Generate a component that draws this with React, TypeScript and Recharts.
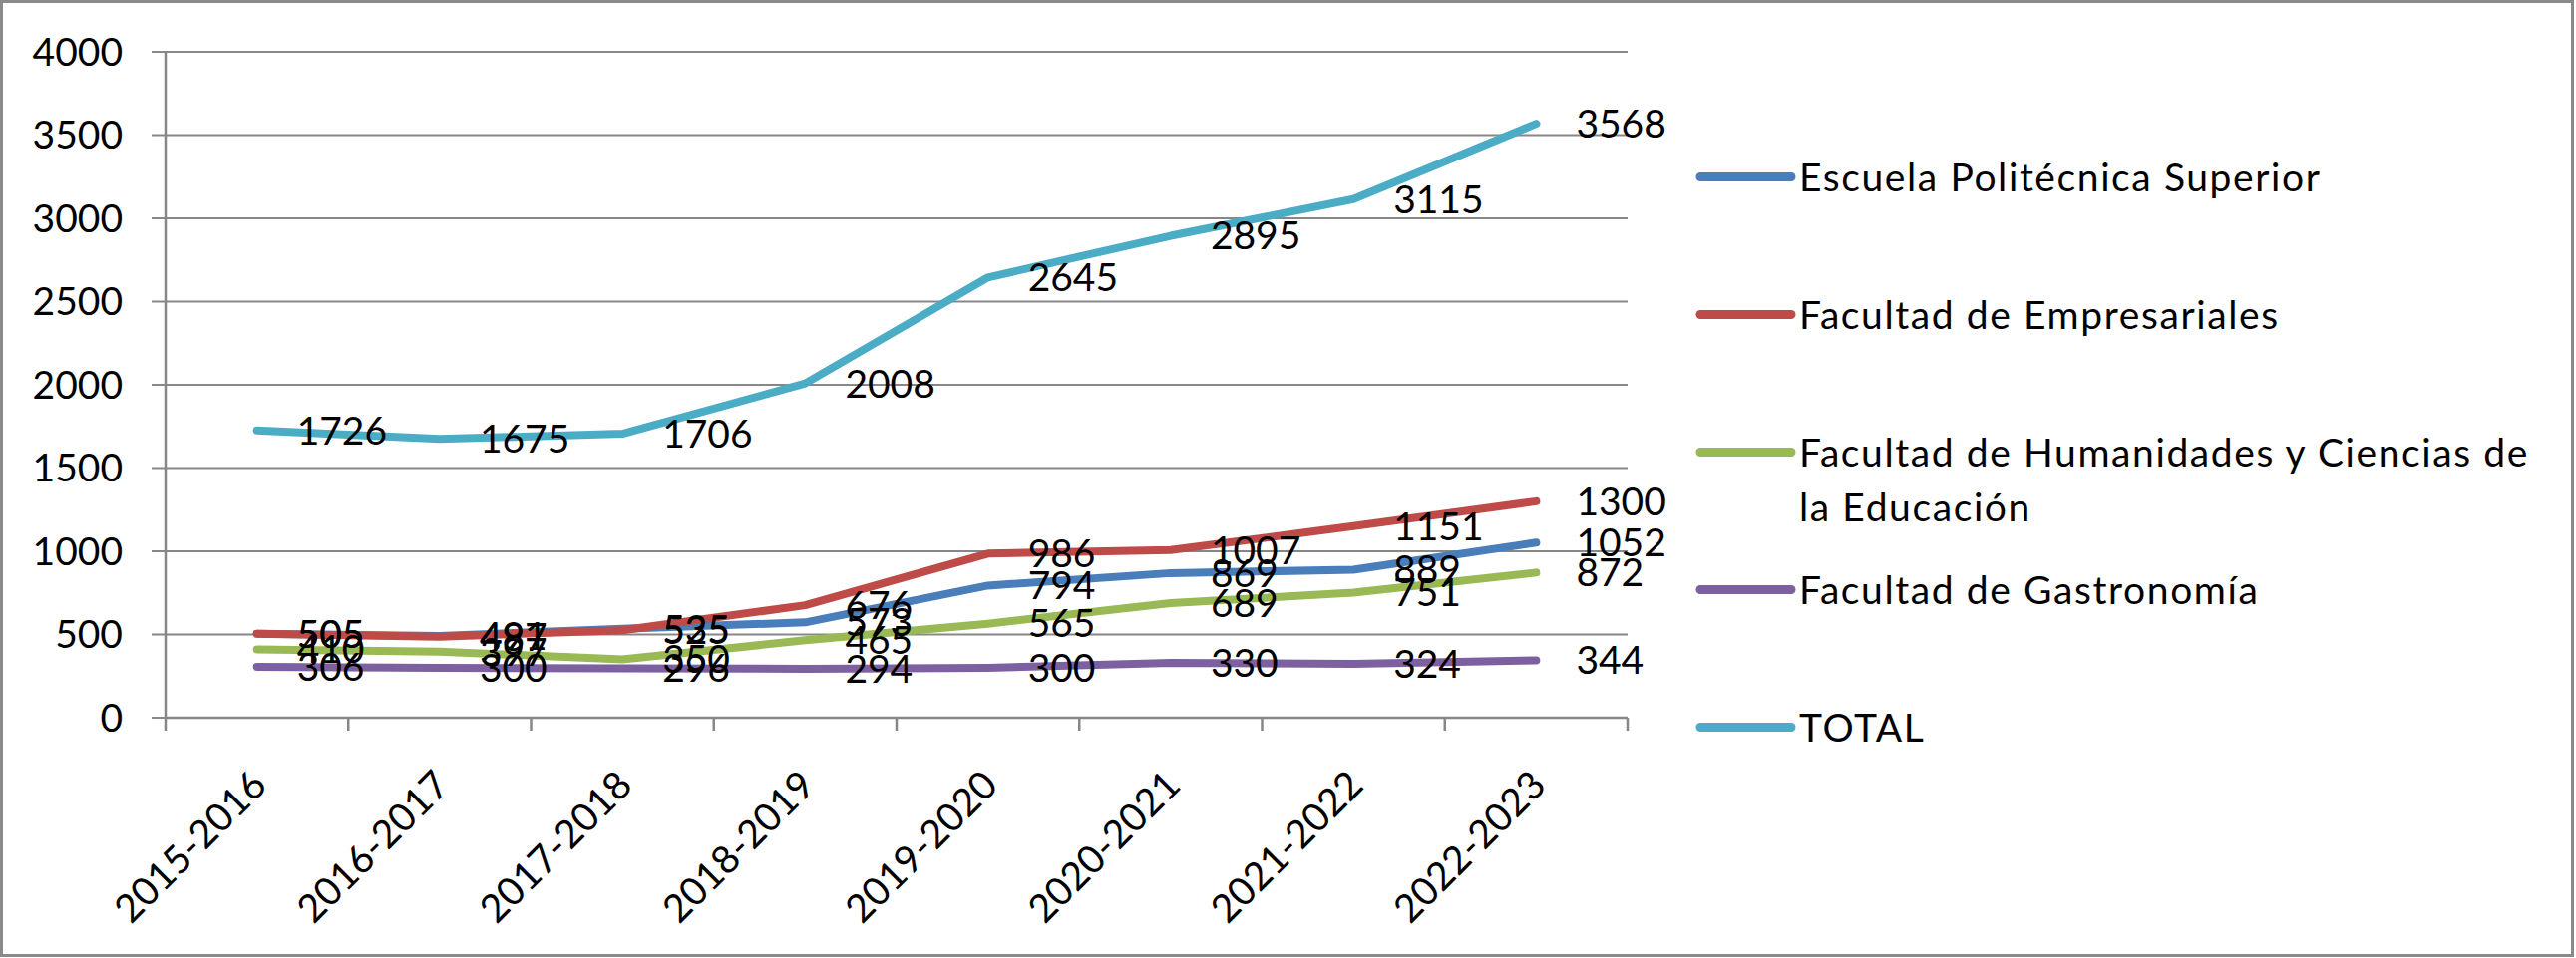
import React from 'react';
import { LineChart, Line, XAxis, YAxis, CartesianGrid, Legend, LabelList } from 'recharts';

const categories = ['2015-2016', '2016-2017', '2017-2018', '2018-2019', '2019-2020', '2020-2021', '2021-2022', '2022-2023'];
const escuela = [505, 491, 535, 573, 794, 869, 889, 1052];
const empresariales = [505, 487, 525, 676, 986, 1007, 1151, 1300];
const humanidades = [410, 397, 350, 465, 565, 689, 751, 872];
const gastronomia = [306, 300, 296, 294, 300, 330, 324, 344];
const total = [1726, 1675, 1706, 2008, 2645, 2895, 3115, 3568];
const yTicks = [0, 500, 1000, 1500, 2000, 2500, 3000, 3500, 4000];

const series = [
  { key: 'eps', name: 'Escuela Politécnica Superior', color: '#4A7EBB', values: escuela },
  { key: 'emp', name: 'Facultad de Empresariales', color: '#BE4B48', values: empresariales },
  { key: 'hum', name: 'Facultad de Humanidades y Ciencias de la Educación', color: '#98B954', values: humanidades },
  { key: 'gas', name: 'Facultad de Gastronomía', color: '#7D60A0', values: gastronomia },
  { key: 'tot', name: 'TOTAL', color: '#4BACC6', values: total },
];

const FONT = 'Lato, "Liberation Sans", Arial, sans-serif';
const FS = 39;
const AXIS = '#878787';

const data = categories.map((c, i) => {
  const row: Record<string, number | string> = { pos: i + 0.5, cat: c };
  series.forEach((s) => {
    row[s.key] = s.values[i];
  });
  return row;
});

const xTicks: number[] = [];
for (let i = 0; i <= categories.length; i++) {
  xTicks.push(i);
  if (i < categories.length) xTicks.push(i + 0.5);
}

const XTick = (props: any) => {
  const { x, y, payload } = props;
  const v = payload.value;
  if (Number.isInteger(v)) {
    return <line x1={x} x2={x} y1={y} y2={y + 13} stroke={AXIS} strokeWidth={2.5} />;
  }
  const label = categories[Math.floor(v)];
  const ax = x - 8;
  const ay = y + 50;
  return (
    <text
      x={ax}
      y={ay}
      dy="0.72em"
      textAnchor="end"
      transform={`rotate(-45, ${ax}, ${ay})`}
      fontSize={FS}
      fontFamily={FONT}
      fill="#000"
    >
      {label}
    </text>
  );
};

const renderLegend = () => (
  <div style={{ position: 'relative', width: 880, height: 961, fontFamily: FONT }}>
    {series.map((s, i) => (
      <div
        key={s.key}
        style={{ position: 'absolute', left: 0, top: 177 + i * 138 - 27.5, display: 'flex', alignItems: 'flex-start' }}
      >
        <svg width={104} height={55} style={{ flex: 'none' }}>
          <line x1={5} x2={96} y1={27.5} y2={27.5} stroke={s.color} strokeWidth={9} strokeLinecap="round" />
        </svg>
        <div style={{ width: 745, fontSize: FS, lineHeight: '55px', letterSpacing: '1.6px', color: '#000' }}>{s.name}</div>
      </div>
    ))}
  </div>
);

export default function App() {
  return (
    <div style={{ position: 'absolute', left: 0, top: 0, width: 2583, height: 961, background: '#fff', fontFamily: FONT }}>
      <LineChart width={2583} height={961} data={data} margin={{ top: 52, right: 951, bottom: 41, left: 0 }}>
        <CartesianGrid vertical={false} stroke={AXIS} strokeWidth={2} />
        <XAxis
          dataKey="pos"
          type="number"
          domain={[0, categories.length]}
          ticks={xTicks}
          interval={0}
          tickLine={false}
          tickSize={0}
          tickMargin={0}
          axisLine={{ stroke: AXIS, strokeWidth: 2.5 }}
          height={200}
          tick={XTick}
          allowDecimals
          allowDataOverflow
        />
        <YAxis
          domain={[0, 4000]}
          ticks={yTicks}
          interval={0}
          width={166}
          tickSize={14}
          tickMargin={29}
          axisLine={{ stroke: AXIS, strokeWidth: 2.5 }}
          tickLine={{ stroke: AXIS, strokeWidth: 2 }}
          tick={{ fontSize: FS, fill: '#000', fontFamily: FONT }}
          allowDataOverflow
        />
        {series.map((s) => (
          <Line
            key={s.key}
            dataKey={s.key}
            name={s.name}
            type="linear"
            stroke={s.color}
            strokeWidth={8}
            strokeLinecap="round"
            strokeLinejoin="round"
            dot={false}
            activeDot={false}
            legendType="none"
            isAnimationActive={false}
          />
        ))}
        {series.map((s) => (
          <Line
            key={s.key + '-lbl'}
            dataKey={s.key}
            stroke="none"
            strokeWidth={0}
            dot={false}
            activeDot={false}
            legendType="none"
            isAnimationActive={false}
          >
            <LabelList dataKey={s.key} position="right" offset={40} fontSize={FS} fill="#000" fontFamily={FONT} />
          </Line>
        ))}
        <Legend
          layout="vertical"
          align="center"
          verticalAlign="middle"
          wrapperStyle={{ left: 1700, top: 0, width: 880, height: 961 }}
          content={renderLegend}
        />
      </LineChart>
      <div
        style={{
          position: 'absolute',
          left: 0,
          top: 0,
          width: 2581,
          height: 960,
          boxSizing: 'border-box',
          border: '3px solid #8a8a8a',
          pointerEvents: 'none',
        }}
      />
    </div>
  );
}
